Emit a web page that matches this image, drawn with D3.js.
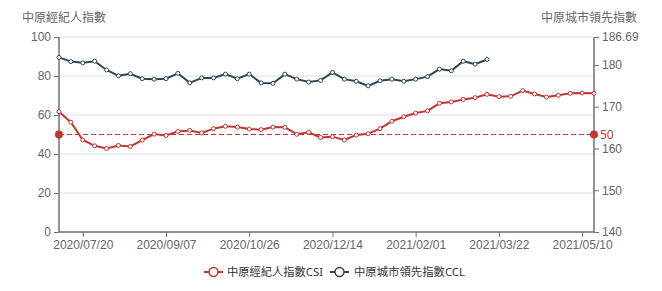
<!DOCTYPE html>
<html><head><meta charset="utf-8">
<script src="https://cdn.jsdelivr.net/npm/d3@7"></script>
<style>html,body{margin:0;padding:0;background:#fff}svg{display:block;font-family:"Noto Sans","Noto Sans CJK TC",sans-serif}</style>
</head><body>
<svg id="c" width="662" height="291"></svg>
<script>
const dates = ["2020/07/06","2020/07/13","2020/07/20","2020/07/27","2020/08/03","2020/08/10","2020/08/17","2020/08/24","2020/08/31","2020/09/07",
"2020/09/14","2020/09/21","2020/09/28","2020/10/05","2020/10/12","2020/10/19","2020/10/26","2020/11/02","2020/11/09","2020/11/16",
"2020/11/23","2020/11/30","2020/12/07","2020/12/14","2020/12/21","2020/12/28","2021/01/04","2021/01/11","2021/01/18","2021/01/25",
"2021/02/01","2021/02/08","2021/02/15","2021/02/22","2021/03/01","2021/03/08","2021/03/15","2021/03/22","2021/03/29","2021/04/05",
"2021/04/12","2021/04/19","2021/04/26","2021/05/03","2021/05/10","2021/05/17"];
const csi = [61.7,56.3,47.2,44.2,42.8,44.4,43.9,47.1,50.2,49.5,51.6,52.1,50.8,53.0,54.2,53.8,52.8,52.5,53.8,53.7,50.1,51.1,48.5,48.9,47.2,49.7,50.4,53.0,56.8,59.1,61.0,62.1,66.0,66.7,68.0,68.9,70.6,69.4,69.6,72.5,70.8,69.2,70.1,71.1,71.3,71.1];
const ccl = [181.8,180.8,180.5,180.9,178.8,177.4,177.9,176.7,176.6,176.7,178.0,175.7,176.9,176.9,177.8,176.7,177.8,175.7,175.6,177.8,176.6,175.9,176.3,178.2,176.6,176.1,175.0,176.2,176.6,176.1,176.6,177.2,179.0,178.6,180.9,180.2,181.3];
const leftTicks = [0,20,40,60,80,100];
const rightTicks = [140,150,160,170,180,186.69];
const markValue = 50;
const names = ["中原經紀人指數CSI","中原城市領先指數CCL"];
const axisTitles = ["中原經紀人指數","中原城市領先指數"];
const colors = ["#c23531","#2f4554"];

const svg = d3.select("#c");
const L=59,R=594,T=37,B=232;
const x = d3.scalePoint().domain(dates).range([L,R]);
const yl = d3.scaleLinear().domain([0,100]).range([B,T]);
const yr = d3.scaleLinear().domain([140,186.69]).range([B,T]);
const axisCol="#6e7079", labCol="#666";

// grid
svg.append("g").selectAll("line").data(leftTicks).join("line")
  .attr("x1",L).attr("x2",R).attr("y1",d=>yl(d)).attr("y2",d=>yl(d))
  .attr("stroke","#e0e0e0").attr("stroke-width",1);

// left axis
const gl = svg.append("g").attr("transform",`translate(${L},0)`)
  .call(d3.axisLeft(yl).tickValues(leftTicks).tickSize(5).tickPadding(3).tickFormat(d3.format("d")));
// right axis
const gr = svg.append("g").attr("transform",`translate(${R},0)`)
  .call(d3.axisRight(yr).tickValues(rightTicks).tickSize(5).tickPadding(3).tickFormat(d=>d===186.69?"186.69":d3.format("d")(d)));
// x axis
const xt = dates.filter((d,i)=>i%7===2);
const gx = svg.append("g").attr("transform",`translate(0,${B})`)
  .call(d3.axisBottom(x).tickValues(xt).tickSize(5).tickPadding(3));
[gl,gr,gx].forEach(g=>{
  g.select(".domain").attr("stroke",axisCol).attr("stroke-width",1.5);
  g.selectAll(".tick line").attr("stroke",axisCol);
  g.selectAll(".tick text").attr("fill",labCol).style("font-size","12px");
});
gl.select(".domain").attr("d",`M0,${T}V${B}`);
gr.select(".domain").attr("d",`M0,${T}V${B}`);
gx.select(".domain").attr("d",`M${L},0H${R}`);

// axis titles
svg.append("text").attr("x",22).attr("y",22).attr("fill",labCol).style("font-size","12px").text(axisTitles[0]);
svg.append("text").attr("x",637).attr("y",22).attr("text-anchor","end").attr("fill",labCol).style("font-size","12px").text(axisTitles[1]);

// mark line
svg.append("line").attr("x1",L).attr("x2",R).attr("y1",yl(markValue)).attr("y2",yl(markValue))
  .attr("stroke",colors[0]).attr("stroke-width",1).attr("stroke-dasharray","5,3");
svg.append("g").selectAll("circle").data([L,R]).join("circle")
  .attr("cx",d=>d).attr("cy",yl(markValue)).attr("r",4).attr("fill",colors[0]);
svg.append("text").attr("x",R+6).attr("y",yl(markValue)).attr("dy","0.35em").attr("fill",colors[0])
  .style("font-size","12px").text(markValue);

// lines
function drawSeries(vals, ys, col){
  const line = d3.line().x((d,i)=>x(dates[i])).y(d=>ys(d));
  svg.append("path").datum(vals).attr("d",line).attr("fill","none").attr("stroke",col).attr("stroke-width",2);
  svg.append("g").selectAll("circle").data(vals).join("circle")
    .attr("cx",(d,i)=>x(dates[i])).attr("cy",d=>ys(d)).attr("r",2)
    .attr("fill","#fff").attr("stroke",col).attr("stroke-width",1);
}
drawSeries(csi, yl, colors[0]);
drawSeries(ccl, yr, colors[1]);

// legend
const lg = svg.append("g");
const items=[{x:204,tx:227,w:96},{x:330,tx:354,w:111}];
items.forEach((it,i)=>{
  const g=lg.append("g");
  g.append("line").attr("x1",it.x).attr("x2",it.x+19).attr("y1",272).attr("y2",272).attr("stroke",colors[i]).attr("stroke-width",2);
  g.append("circle").attr("cx",it.x+9.5).attr("cy",272).attr("r",4.5).attr("fill","#fff").attr("stroke",colors[i]).attr("stroke-width",1.5);
  g.append("text").attr("x",it.tx).attr("y",272).attr("dy","0.35em").attr("fill","#333").style("font-size","11.5px")
    .attr("textLength",it.w).attr("lengthAdjust","spacingAndGlyphs").text(names[i]);
});
</script>
</body></html>
